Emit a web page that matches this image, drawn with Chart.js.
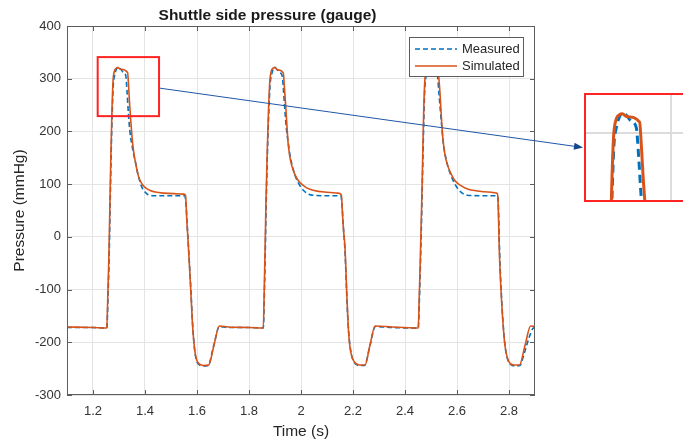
<!DOCTYPE html>
<html>
<head>
<meta charset="utf-8">
<script src="https://cdn.jsdelivr.net/npm/chart.js@4/dist/chart.umd.min.js"></script>
<style>
html, body { margin: 0; padding: 0; background: #fff; overflow: hidden; }
#wrap { position: relative; width: 683px; height: 441px; }
#zoomBox { position: absolute; left: 584px; top: 93px; width: 99px; height: 105px;
  border: 2px solid #ff2323; border-right: none; overflow: hidden; background: #fff; }
</style>
</head>
<body>
<div id="wrap">
  <canvas id="main" width="683" height="441"></canvas>
  <div id="zoomBox"><canvas id="inset" width="110" height="105"></canvas></div>
</div>
<script>
// tick labels
const xTicks = [1.2, 1.4, 1.6, 1.8, 2, 2.2, 2.4, 2.6, 2.8];
const yTicks = [-300, -200, -100, 0, 100, 200, 300, 400];

// zoom window (time, pressure) shown in the inset
const zoomT = [1.218, 1.454];
const zoomP = [229, 341];

// Simulated
const simTime = [
  1.100, 1.200, 1.253, 1.257, 1.261, 1.265, 1.269, 1.273, 1.277, 1.282, 1.290, 1.296, 1.305, 1.333,
  1.337, 1.341, 1.346, 1.352, 1.358, 1.365, 1.373, 1.382, 1.392, 1.405, 1.420, 1.440, 1.470, 1.510,
  1.550, 1.556, 1.561, 1.567, 1.576, 1.582, 1.588, 1.594, 1.600, 1.608, 1.625, 1.645, 1.665, 1.686,
  1.720, 1.800, 1.855, 1.859, 1.862, 1.865, 1.870, 1.875, 1.880, 1.886, 1.893, 1.898, 1.910, 1.932,
  1.936, 1.941, 1.946, 1.950, 1.957, 1.964, 1.975, 1.988, 2.005, 2.022, 2.050, 2.090, 2.142, 2.155,
  2.160, 2.164, 2.169, 2.178, 2.183, 2.188, 2.196, 2.208, 2.225, 2.246, 2.265, 2.285, 2.350, 2.451,
  2.455, 2.459, 2.464, 2.468, 2.472, 2.476, 2.481, 2.487, 2.493, 2.505, 2.528, 2.532, 2.535, 2.541,
  2.547, 2.554, 2.563, 2.573, 2.590, 2.612, 2.640, 2.680, 2.720, 2.753, 2.757, 2.760, 2.763, 2.772,
  2.779, 2.785, 2.794, 2.804, 2.820, 2.840, 2.862, 2.883, 2.900
];
const simPressure = [
  -171, -172, -173, -110, -40, 60, 160, 240, 295, 314, 320, 321, 318, 312,
  285, 250, 215, 180, 156, 137, 118, 106, 98, 92, 88, 85, 83, 82,
  81, 78, 30, -19, -101, -160, -200, -224, -235, -241, -244, -243, -206, -169,
  -171, -172, -173, -90, -20, 60, 160, 240, 295, 315, 320, 321, 317, 311,
  285, 250, 210, 180, 152, 136, 120, 108, 99, 93, 88, 85, 83, 80,
  40, 10, -19, -130, -180, -208, -228, -239, -243, -243, -206, -169, -171, -173,
  -110, -40, 60, 150, 240, 295, 314, 320, 321, 317, 311, 290, 270, 218,
  180, 155, 137, 124, 108, 98, 91, 87, 85, 83, 78, 30, -31, -126,
  -178, -208, -230, -240, -243, -243, -205, -169, -170
];

// Measured
const measTime = [
  1.100, 1.200, 1.253, 1.258, 1.262, 1.266, 1.270, 1.274, 1.278, 1.283, 1.290, 1.297, 1.305, 1.315,
  1.326, 1.331, 1.336, 1.342, 1.349, 1.356, 1.364, 1.372, 1.381, 1.390, 1.400, 1.412, 1.430, 1.500,
  1.553, 1.558, 1.562, 1.568, 1.577, 1.583, 1.589, 1.595, 1.602, 1.610, 1.625, 1.643, 1.664, 1.686,
  1.720, 1.800, 1.855, 1.860, 1.863, 1.866, 1.871, 1.876, 1.881, 1.887, 1.894, 1.899, 1.907, 1.918,
  1.928, 1.933, 1.938, 1.944, 1.951, 1.958, 1.966, 1.976, 1.988, 2.000, 2.010, 2.025, 2.045, 2.100,
  2.153, 2.158, 2.162, 2.169, 2.178, 2.184, 2.190, 2.198, 2.210, 2.225, 2.244, 2.265, 2.286, 2.350,
  2.451, 2.456, 2.460, 2.465, 2.469, 2.473, 2.477, 2.482, 2.488, 2.494, 2.502, 2.513, 2.525, 2.530,
  2.536, 2.542, 2.549, 2.557, 2.566, 2.577, 2.592, 2.605, 2.620, 2.640, 2.700, 2.754, 2.759, 2.764,
  2.773, 2.780, 2.787, 2.796, 2.806, 2.822, 2.842, 2.858, 2.876, 2.890, 2.900
];
const measPressure = [
  -172, -172, -173, -110, -40, 60, 160, 235, 288, 306, 318, 322, 319, 313,
  306, 275, 235, 200, 176, 158, 140, 121, 104, 92, 85, 80, 78, 78,
  78, 60, 25, -25, -105, -165, -205, -228, -239, -243, -245, -244, -207, -170,
  -172, -172, -173, -90, -20, 60, 160, 235, 288, 308, 319, 322, 318, 312,
  305, 275, 240, 205, 178, 154, 136, 118, 104, 94, 88, 82, 79, 78,
  78, 60, 25, -25, -135, -185, -212, -231, -241, -244, -244, -207, -170, -172,
  -173, -110, -40, 60, 150, 235, 288, 306, 318, 322, 318, 312, 305, 275,
  240, 205, 172, 150, 132, 116, 100, 90, 83, 79, 78, 78, 60, -31,
  -130, -182, -215, -234, -242, -245, -244, -222, -193, -175, -172
];

const blue = '#0072BD';
const orange = '#D95319';
const font = '"Liberation Sans", Arial, Helvetica, sans-serif';

function points(ts, ps) {
  return ts.map((t, i) => ({ x: t, y: ps[i] }));
}

function datasets(w, dash) {
  return [
    { label: 'Measured', data: points(measTime, measPressure), borderColor: blue, borderWidth: w,
      borderDash: dash, pointRadius: 0, cubicInterpolationMode: 'monotone', order: 1 },
    { label: 'Simulated', data: points(simTime, simPressure), borderColor: orange, borderWidth: w,
      pointRadius: 0, cubicInterpolationMode: 'monotone', order: 0 }
  ];
}

// box, inward ticks, zoom rectangle, arrow and legend
const decor = {
  id: 'decor',
  afterDatasetsDraw(chart) {
    const { ctx, chartArea: a, scales: { x, y } } = chart;
    ctx.save();
    ctx.strokeStyle = '#5c5c5c';
    ctx.lineWidth = 1;
    ctx.strokeRect(a.left + 0.5, a.top + 0.5, a.right - a.left - 1, a.bottom - a.top - 1);
    ctx.beginPath();
    xTicks.forEach(v => {
      const px = Math.round(x.getPixelForValue(v)) + 0.5;
      ctx.moveTo(px, a.bottom); ctx.lineTo(px, a.bottom - 5);
      ctx.moveTo(px, a.top); ctx.lineTo(px, a.top + 5);
    });
    yTicks.forEach(v => {
      const py = Math.round(y.getPixelForValue(v)) + 0.5;
      ctx.moveTo(a.left, py); ctx.lineTo(a.left + 5, py);
      ctx.moveTo(a.right, py); ctx.lineTo(a.right - 5, py);
    });
    ctx.stroke();

    // zoom rectangle
    const rx0 = x.getPixelForValue(zoomT[0]), rx1 = x.getPixelForValue(zoomT[1]);
    const ry0 = y.getPixelForValue(zoomP[1]), ry1 = y.getPixelForValue(zoomP[0]);
    ctx.strokeStyle = '#ff2323';
    ctx.lineWidth = 2;
    ctx.strokeRect(rx0, ry0, rx1 - rx0, ry1 - ry0);

    // arrow to inset
    const box = document.getElementById('zoomBox');
    const sx = rx1 + 1, sy = y.getPixelForValue(282);
    const ex = box.offsetLeft - 1, ey = box.offsetTop + box.offsetHeight / 2;
    const ang = Math.atan2(ey - sy, ex - sx);
    ctx.strokeStyle = '#1f56a8';
    ctx.fillStyle = '#14468e';
    ctx.lineWidth = 1;
    ctx.beginPath();
    ctx.moveTo(sx, sy);
    ctx.lineTo(ex - 6 * Math.cos(ang), ey - 6 * Math.sin(ang));
    ctx.stroke();
    ctx.beginPath();
    ctx.moveTo(ex, ey);
    ctx.lineTo(ex - 9 * Math.cos(ang) + 3.5 * Math.sin(ang), ey - 9 * Math.sin(ang) - 3.5 * Math.cos(ang));
    ctx.lineTo(ex - 9 * Math.cos(ang) - 3.5 * Math.sin(ang), ey - 9 * Math.sin(ang) + 3.5 * Math.cos(ang));
    ctx.closePath();
    ctx.fill();

    // legend
    const lx = 409, ly = 37, lw = 114, lh = 39;
    ctx.fillStyle = '#fff';
    ctx.fillRect(lx, ly, lw, lh);
    ctx.strokeStyle = '#5c5c5c';
    ctx.lineWidth = 1;
    ctx.strokeRect(lx + 0.5, ly + 0.5, lw, lh);
    const rows = [['Measured', blue, [5, 3], 49], ['Simulated', orange, [], 66]];
    rows.forEach(([txt, col, dash, yy]) => {
      ctx.strokeStyle = col;
      ctx.lineWidth = 1.6;
      ctx.setLineDash(dash);
      ctx.beginPath();
      ctx.moveTo(415, yy); ctx.lineTo(457, yy);
      ctx.stroke();
      ctx.setLineDash([]);
      ctx.fillStyle = '#262626';
      ctx.font = '13px ' + font;
      ctx.textBaseline = 'middle';
      ctx.textAlign = 'left';
      ctx.fillText(txt, 462, yy);
    });
    ctx.restore();
  }
};

new Chart(document.getElementById('main'), {
  type: 'line',
  data: { datasets: datasets(1.6, [5, 3]) },
  options: {
    responsive: false,
    animation: false,
    events: [],
    layout: { padding: { left: 0, top: 0, right: 148, bottom: 0 } },
    plugins: {
      legend: { display: false },
      tooltip: { enabled: false },
      title: {
        display: true,
        text: 'Shuttle side pressure (gauge)',
        color: '#1a1a1a',
        font: { family: font, size: 15.5, weight: 'bold', lineHeight: 1.2 },
        padding: { top: 6, bottom: 1.4 }
      }
    },
    scales: {
      x: {
        type: 'linear',
        min: 1.1,
        max: 2.9,
        afterBuildTicks: s => { s.ticks = xTicks.map(v => ({ value: v })); },
        afterFit: s => { s.height = 46; },
        ticks: { color: '#333', font: { family: font, size: 13 }, padding: 9, maxRotation: 0,
                 autoSkip: false, callback: v => String(v) },
        grid: { color: '#e4e4e4', drawTicks: false },
        border: { display: false },
        title: { display: true, text: 'Time (s)', color: '#262626',
                 font: { family: font, size: 15.5, lineHeight: 1.2 }, padding: 0 }
      },
      y: {
        min: -300,
        max: 400,
        afterBuildTicks: s => { s.ticks = yTicks.map(v => ({ value: v })); },
        afterFit: s => { s.width = 67; },
        ticks: { color: '#333', font: { family: font, size: 13 }, padding: 6, callback: v => String(v) },
        grid: { color: '#e4e4e4', drawTicks: false },
        border: { display: false },
        title: { display: true, text: 'Pressure (mmHg)', color: '#262626',
                 font: { family: font, size: 15.5, lineHeight: 1.2 }, padding: { top: 10, bottom: 0 } }
      }
    }
  },
  plugins: [decor]
});

// zoomed inset
new Chart(document.getElementById('inset'), {
  type: 'line',
  data: { datasets: datasets(3, [8, 5]) },
  options: {
    responsive: false,
    animation: false,
    events: [],
    layout: { padding: 0 },
    plugins: { legend: { display: false }, tooltip: { enabled: false } },
    scales: {
      x: {
        type: 'linear', min: zoomT[0], max: zoomT[1],
        afterBuildTicks: s => { s.ticks = [{ value: 1.4 }]; },
        afterFit: s => { s.height = 0; },
        ticks: { display: false },
        grid: { color: '#dcdcdc', drawTicks: false, lineWidth: 2 },
        border: { display: false }
      },
      y: {
        min: zoomP[0], max: zoomP[1],
        afterBuildTicks: s => { s.ticks = [{ value: 300 }]; },
        afterFit: s => { s.width = 0; },
        ticks: { display: false },
        grid: { color: '#dcdcdc', drawTicks: false, lineWidth: 2 },
        border: { display: false }
      }
    }
  }
});
</script>
</body>
</html>
